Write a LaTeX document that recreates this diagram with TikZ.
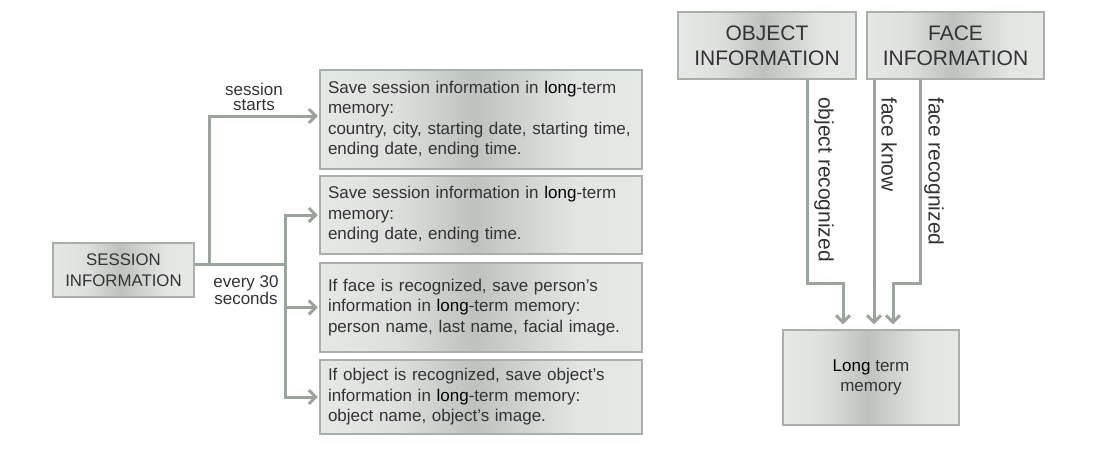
\documentclass[tikz,border=0pt]{standalone}
\usepackage{fontspec}
\setmainfont{Liberation Sans}
\usetikzlibrary{arrows.meta,calc}
\definecolor{txt}{HTML}{333333}
\definecolor{conncol}{HTML}{9AA49A}
\definecolor{bord}{HTML}{A9AFA9}
\definecolor{c1}{HTML}{E5E8E5}
\definecolor{c4}{HTML}{DCDFDC}
\definecolor{c2}{HTML}{BEC2BE}
\definecolor{c3}{HTML}{CACECA}
\definecolor{c5}{HTML}{E2E5E2}
\pgfdeclarehorizontalshading{boxshade}{100bp}{color(0bp)=(c1); color(25bp)=(c1); color(37bp)=(c4); color(49bp)=(c2); color(54bp)=(c3); color(65bp)=(c5); color(75bp)=(c1); color(100bp)=(c1)}
\begin{document}
\begin{tikzpicture}[x=1pt,y=-1pt,
  box/.style={draw=bord, line width=1.2pt, shade, shading=boxshade, inner ysep=0pt, text=txt},
  rbox/.style={box, text width=306pt, inner xsep=8pt, align=left, font=\fontsize{17}{20.5}\selectfont},
  lbl/.style={text=txt, align=center, inner sep=0pt, font=\fontsize{17}{15}\selectfont},
  vlbl/.style={text=txt, inner sep=0pt, rotate=-90, anchor=west, font=\fontsize{21}{25}\selectfont},
  conn/.style={draw=conncol, line width=3pt},
  arr/.style={conn, -{Straight Barb[length=7pt,width=14pt]}}]
\useasboundingbox (0,0) rectangle (1099,453);

% left part
\node[box, minimum width=141pt, minimum height=54pt, inner xsep=0pt, align=center, font=\fontsize{16.8}{21}\selectfont] (sess) at (123.5,270) {SESSION\\INFORMATION};

\node[rbox, minimum height=99pt] (b1) at (481,119.5) {Save session information in {\color{black}long}-term\\memory:\\country, city, starting date, starting time,\\ending date, ending time.};
\node[rbox, minimum height=78pt] (b2) at (481,215) {Save session information in {\color{black}long}-term\\memory:\\ending date, ending time.};
\node[rbox, minimum height=89pt] (b3) at (481,307.5) {If face is recognized, save person's\\information in {\color{black}long}-term memory:\\person name, last name, facial image.};
\node[rbox, minimum height=74pt] (b4) at (481,397) {If object is recognized, save object's\\information in {\color{black}long}-term memory:\\object name, object's image.};

\coordinate (j1) at (209,264);
\coordinate (j2) at (285,264);
\draw[conn] (sess.east |- j1) -- (j2);
\draw[arr, shorten >=1.5pt] (j1) |- ($(b1.west)+(0,-3.5)$);
\draw[arr, shorten >=1.5pt] (j2) |- (b2.west);
\draw[arr, shorten >=1.5pt] (j2) |- (b3.west);
\draw[arr, shorten >=1.5pt] (j2) |- (b4.west);

\node[lbl] (ss) at (254,97) {session\\starts};
\node[lbl] (e30) at (246,290) {every 30\\seconds};

% right part
\node[box, minimum width=178pt, minimum height=67pt, inner xsep=0pt, align=center, font=\fontsize{21}{25}\selectfont] (obj) at (767,45.5) {OBJECT\\INFORMATION};
\node[box, minimum width=177pt, minimum height=67pt, inner xsep=0pt, align=center, font=\fontsize{21}{25}\selectfont] (face) at (955.5,45.5) {FACE\\INFORMATION};
\node[box, minimum width=176pt, minimum height=95pt, inner xsep=0pt, align=center, font=\fontsize{17}{20}\selectfont] (ltm) at (871,377.5) {{\color{black}Long} term\\memory};

\coordinate (o1) at (807,283);
\coordinate (o2) at (843,283);
\coordinate (fk) at (874,283);
\coordinate (f1) at (920,283);
\coordinate (f2) at (893,283);
\draw[arr, shorten >=5pt] (obj.south -| o1) -- (o1) -- (o2) -- (ltm.north -| o2);
\draw[arr, shorten >=5pt] (face.south -| fk) -- (ltm.north -| fk);
\draw[arr, shorten >=5pt] (face.south -| f1) -- (f1) -- (f2) -- (ltm.north -| f2);

\node[vlbl] (lo) at (824,97) {object recognized};
\node[vlbl] (lk) at (889,97) {face know};
\node[vlbl] (lf) at (934,97) {face recognized};
\end{tikzpicture}
\end{document}
